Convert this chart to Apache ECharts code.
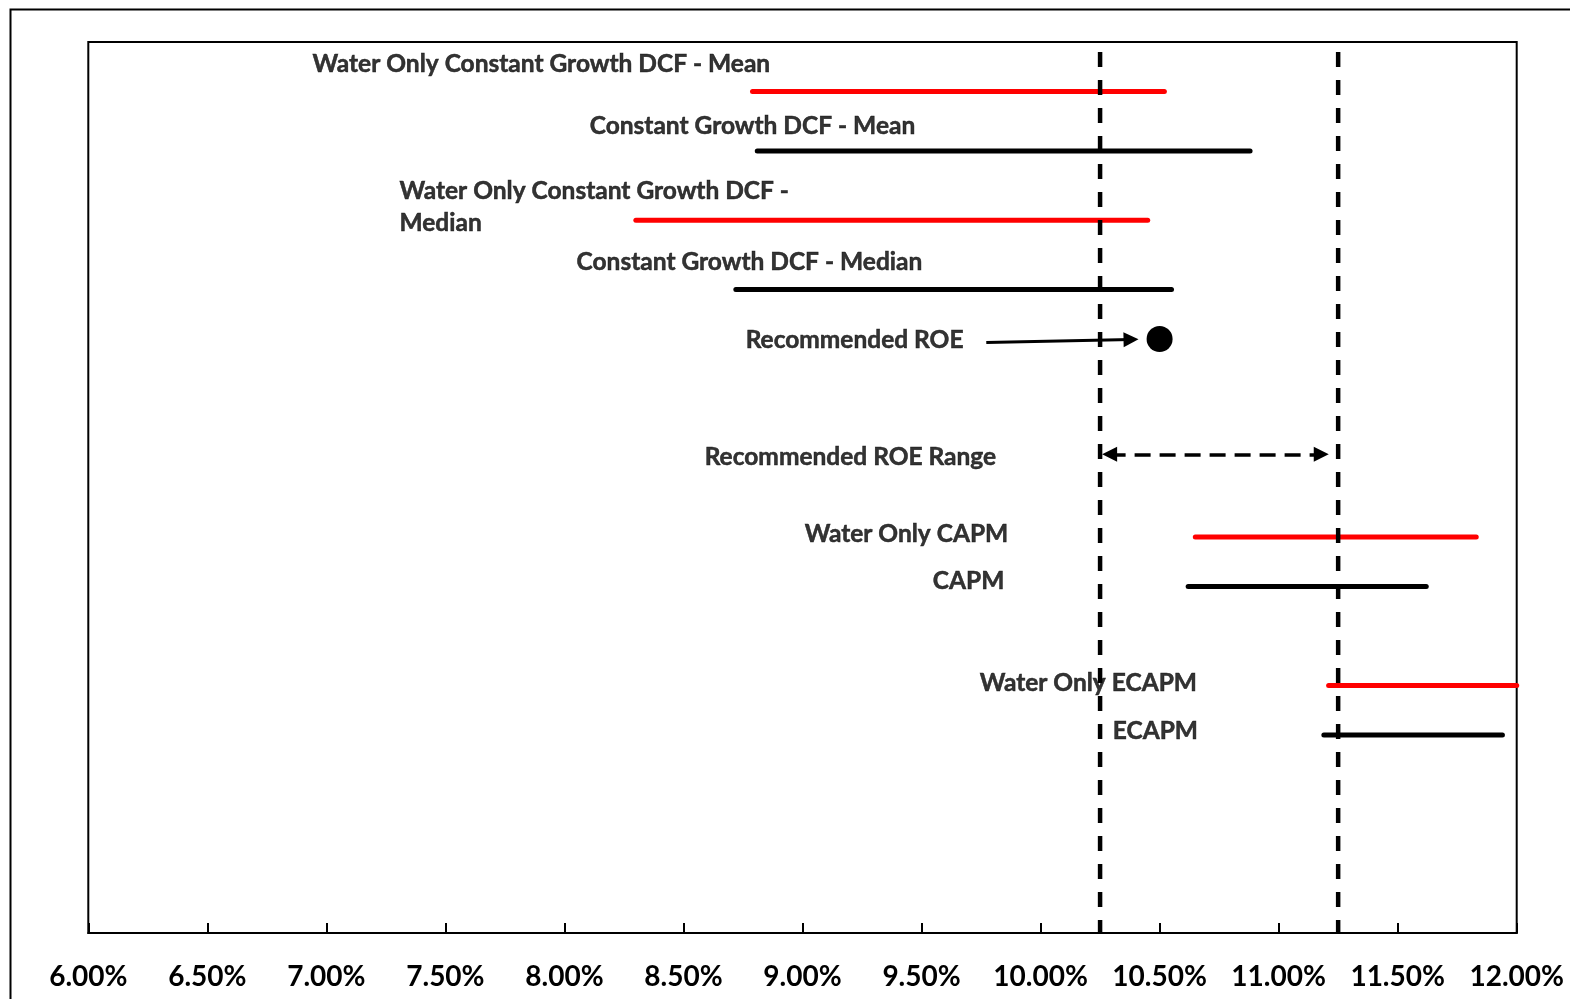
<!DOCTYPE html>
<html>
<head>
<meta charset="utf-8">
<title>ROE ranges</title>
<script src="https://cdn.jsdelivr.net/npm/echarts@6/dist/echarts.min.js"></script>
<style>
  html, body { margin: 0; padding: 0; background: #ffffff; }
  #chart { width: 1570px; height: 999px; }
</style>
</head>
<body>
<div id="chart"></div>
<script>
// ---- data ----------------------------------------------------------------
// x-axis ticks (percent)
const xTicks = [6.0, 6.5, 7.0, 7.5, 8.0, 8.5, 9.0, 9.5, 10.0, 10.5, 11.0, 11.5, 12.0];

// ROE ranges by method (percent); row = vertical level of each bar
const rangeNames = [
  'Water Only Constant Growth DCF - Mean',
  'Constant Growth DCF - Mean',
  'Water Only Constant Growth DCF - Median',
  'Constant Growth DCF - Median',
  'Water Only CAPM',
  'CAPM',
  'Water Only ECAPM',
  'ECAPM'
];
const rangeLow  = [8.79, 8.81, 8.30, 8.72, 10.65, 10.62, 11.21, 11.19];
const rangeHigh = [10.52, 10.88, 10.45, 10.55, 11.83, 11.62, 12.00, 11.94];
const rangeRow  = [17.0, 15.8, 14.4, 13.0, 8.0, 7.0, 5.0, 4.0];
const rangeGroup = ['water', 'all', 'water', 'all', 'water', 'all', 'water', 'all'];

// recommended ROE and recommended range (percent)
const recommendedROE = 10.50;
const recommendedRow = 12.0;
const recommendedRange = [10.25, 11.25];
const recommendedRangeRow = 9.67;

// ---- layout ----------------------------------------------------------------
const yMax = 18;
const guideTop = 17.8;
// text anchors: [x, y] at the left edge / vertical middle of each caption
const captions = [
  { text: 'Water Only Constant Growth DCF - Mean', at: [6.940, 17.56] },
  { text: 'Constant Growth DCF - Mean', at: [8.104, 16.30] },
  { text: 'Water Only Constant Growth DCF -\nMedian', at: [7.305, 14.67] },
  { text: 'Constant Growth DCF - Median', at: [8.049, 13.56] },
  { text: 'Recommended ROE', at: [8.759, 11.98] },
  { text: 'Recommended ROE Range', at: [8.587, 9.62] },
  { text: 'Water Only CAPM', at: [9.007, 8.06] },
  { text: 'CAPM', at: [9.545, 7.11] },
  { text: 'Water Only ECAPM', at: [9.742, 5.05] },
  { text: 'ECAPM', at: [10.301, 4.08] }
];
// arrow end points sit half an arrowhead back from the tip
const roeArrow = { from: [9.772, 11.93], to: [10.380, 11.99] };
const rangeArrowEnds = [10.290, 11.179];

const groupColor = { water: '#ff0000', all: '#000000' };
const FONT = 'Lato, "Open Sans", sans-serif';

// ---- series ----------------------------------------------------------------
const series = [];

rangeNames.forEach((name, i) => {
  series.push({
    name: name,
    type: 'line',
    data: [[rangeLow[i], rangeRow[i]], [rangeHigh[i], rangeRow[i]]],
    symbol: 'none',
    lineStyle: { color: groupColor[rangeGroup[i]], width: 5, cap: 'round' },
    silent: true,
    z: 3
  });
});

// dashed guides at both ends of the recommended range
recommendedRange.forEach((v) => {
  series.push({
    type: 'line',
    data: [[v, guideTop], [v, 0]],
    symbol: 'none',
    lineStyle: { color: '#000', width: 4.5, type: [15, 13] },
    silent: true,
    z: 4
  });
});

// recommended ROE point
series.push({
  name: 'Recommended ROE',
  type: 'scatter',
  data: [[recommendedROE, recommendedRow]],
  symbol: 'circle',
  symbolSize: 26,
  itemStyle: { color: '#000', opacity: 1 },
  silent: true,
  z: 5
});

// pointer arrow and double-headed range arrow
series.push({
  type: 'line',
  data: [],
  silent: true,
  markLine: {
    silent: true,
    animation: false,
    label: { show: false },
    symbol: ['none', 'triangle'],
    symbolSize: 15,
    lineStyle: { color: '#000', width: 3, type: 'solid' },
    data: [[{ coord: roeArrow.from }, { coord: roeArrow.to }]]
  }
});
series.push({
  type: 'line',
  data: [],
  silent: true,
  markLine: {
    silent: true,
    animation: false,
    label: { show: false },
    symbol: ['triangle', 'triangle'],
    symbolSize: 15,
    lineStyle: { color: '#000', width: 3.5, type: [16, 9] },
    data: [[
      { coord: [rangeArrowEnds[0], recommendedRangeRow] },
      { coord: [rangeArrowEnds[1], recommendedRangeRow] }
    ]]
  }
});

// captions
series.push({
  type: 'scatter',
  data: captions.map((c) => ({ value: c.at, name: c.text })),
  symbolSize: 1,
  itemStyle: { color: 'transparent' },
  silent: true,
  z: 6,
  label: {
    show: true,
    position: 'right',
    distance: 0,
    formatter: (p) => p.name,
    color: '#000',
    fontFamily: FONT,
    fontWeight: 'bold',
    fontSize: 24.5,
    lineHeight: 32,
    textBorderColor: '#000',
    textBorderWidth: 0.5,
    align: 'left',
    verticalAlign: 'middle'
  }
});

// ---- chart -----------------------------------------------------------------
const chart = echarts.init(document.getElementById('chart'), null, { renderer: 'canvas' });
chart.setOption({
  animation: false,
  backgroundColor: '#ffffff',
  grid: {
    left: 88.3, top: 42, right: 53.3, bottom: 66,
    show: true, borderColor: '#000', borderWidth: 2, backgroundColor: 'transparent'
  },
  xAxis: {
    type: 'value',
    min: xTicks[0],
    max: xTicks[xTicks.length - 1],
    interval: xTicks[1] - xTicks[0],
    axisLine: { show: true, onZero: false, lineStyle: { color: '#000', width: 2 } },
    axisTick: { show: true, inside: true, length: 10, lineStyle: { color: '#000', width: 2 } },
    splitLine: { show: false },
    axisLabel: {
      color: '#000', fontFamily: FONT, fontWeight: 'bold', fontSize: 28, margin: 30,
      showMinLabel: true, showMaxLabel: true,
      formatter: (v) => v.toFixed(2) + '%'
    }
  },
  yAxis: {
    type: 'value', min: 0, max: yMax, show: false,
    splitLine: { show: false }
  },
  graphic: [{
    type: 'rect',
    left: 8, top: 7,
    shape: { width: 1700, height: 1100 },
    style: { fill: 'none', stroke: '#000', lineWidth: 2 },
    silent: true
  }],
  series: series
});
</script>
</body>
</html>
